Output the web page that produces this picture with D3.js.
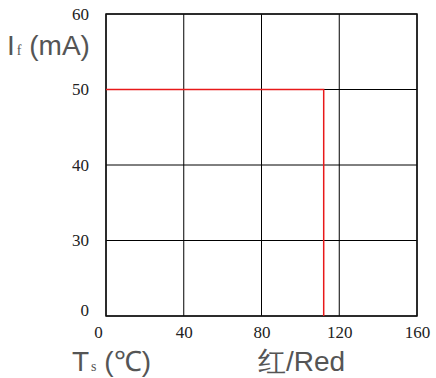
<!DOCTYPE html>
<html>
<head>
<style>
  body { margin: 0; background: #fff; }
  .title { font-family: "Liberation Sans", Arial, Helvetica, sans-serif; fill: #555; }
</style>
</head>
<body>
<script src="https://cdn.jsdelivr.net/npm/d3@7"></script>
<script>
var xTicks = [0, 40, 80, 120, 160];
var yTicks = [0, 30, 40, 50, 60];
// derating curve: current vs temperature
var curveT = [0, 112, 112];
var curveI = [50, 50, 0];

var width = 436, height = 378;
var mLeft = 106, mRight = 417, mTop = 14, mBottom = 316;

var svg = d3.select("body").append("svg")
    .attr("width", width)
    .attr("height", height);

var x = d3.scaleLinear().domain([0, 160]).range([mLeft, mRight]);
// y axis is not linear: ticks are evenly spaced
var y = d3.scalePoint().domain(yTicks.slice().reverse()).range([mTop, mBottom]);

// grid
svg.append("g").selectAll("line").data(xTicks).enter().append("line")
    .attr("x1", d => x(d)).attr("x2", d => x(d))
    .attr("y1", mTop).attr("y2", mBottom)
    .attr("stroke", "#000").attr("stroke-width", 1);
svg.append("g").selectAll("line").data(yTicks).enter().append("line")
    .attr("y1", d => y(d)).attr("y2", d => y(d))
    .attr("x1", mLeft).attr("x2", mRight)
    .attr("stroke", "#000").attr("stroke-width", 1);

svg.append("rect")
    .attr("x", mLeft).attr("y", mTop)
    .attr("width", mRight - mLeft).attr("height", mBottom - mTop)
    .attr("fill", "none").attr("stroke", "#111").attr("stroke-width", 1.5);

// red curve
var line = d3.line().x(d => x(d[0])).y(d => y(d[1]));
svg.append("path")
    .datum(curveT.map((t, i) => [t, curveI[i]]))
    .attr("d", line)
    .attr("fill", "none")
    .attr("stroke", "#e8191a")
    .attr("stroke-width", 1.5);

var serif = "Liberation Serif, DejaVu Serif, Times New Roman, serif";

function tickStyle(g) {
    g.attr("font-family", serif).attr("font-size", 17);
    g.select(".domain").remove();
    g.selectAll(".tick text").attr("fill", "#222");
}

// axes labels only
var xAxis = d3.axisBottom(x).tickValues(xTicks).tickSize(0).tickPadding(10);
var gx = svg.append("g").attr("transform", "translate(0," + mBottom + ")").call(xAxis).call(tickStyle);
gx.selectAll(".tick text").attr("dx", d => d === 0 ? -8 : 0);

var yAxis = d3.axisLeft(y).tickValues(yTicks).tickSize(0).tickPadding(17);
var gy = svg.append("g").attr("transform", "translate(" + mLeft + ",0)").call(yAxis).call(tickStyle);
gy.selectAll(".tick text").attr("dy", d => d === 0 ? "-0.05em" : "0.32em");

// titles
var t1 = svg.append("text").attr("class", "title").attr("x", 7).attr("y", 55).style("font-size", "28px");
t1.append("tspan").text("I");
t1.append("tspan").text("f").attr("font-family", serif).style("font-size", "14px").attr("dx", 2);
t1.append("tspan").text(" (mA)");

var t2 = svg.append("text").attr("class", "title").attr("x", 72).attr("y", 371).style("font-size", "28px");
t2.append("tspan").text("T");
t2.append("tspan").text("s").attr("font-family", serif).style("font-size", "14px").attr("dx", 2);
t2.append("tspan").text(" (\u2103)");

svg.append("text").attr("class", "title").attr("x", 258).attr("y", 371)
    .style("font-size", "28px")
    .text("红/Red");
</script>
</body>
</html>
